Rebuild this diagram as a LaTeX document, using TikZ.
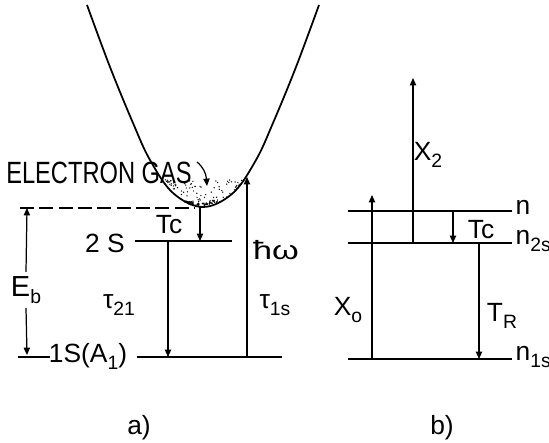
\documentclass[tikz,border=0pt]{standalone}
\usepackage{fontspec}
\usetikzlibrary{arrows.meta}
\newfontfamily\lf{Liberation Sans}
\newfontfamily\lfc[FakeStretch=0.77]{Liberation Sans}
\newfontfamily\lfw[FakeStretch=1.3]{Liberation Sans}
\newcommand\sbs[1]{\raisebox{-0.5ex}{\fontsize{11}{11}\selectfont #1}}
\begin{document}
\begin{tikzpicture}[x=0.02cm,y=-0.02cm,line width=0.7pt,
  arr/.style={-{Triangle[length=4.2pt,width=3.6pt]}},
  curve/.style={line width=1pt},
  lab/.style={font=\lf\fontsize{15}{17}\selectfont,inner sep=0pt},
  biglab/.style={font=\lfc\fontsize{17.5}{20}\selectfont,inner sep=0pt}]
\useasboundingbox (0,0) rectangle (549,443);
% ---------------- panel a ----------------
\draw[curve] plot[smooth,tension=0.6] coordinates
  {(87,5) (110,67) (133,123) (150,160) (173,193) (203,207)
   (233,193) (256,160) (273,123) (296,67) (319,5)};
% electron gas dots
\pgfmathsetseed{7}
\foreach \i in {1,...,90}{
  \pgfmathsetmacro\d{(rnd*2-1)*40}
  \pgfmathsetmacro\yb{207-0.016*\d*\d-2}
  \pgfmathsetmacro\h{max(\yb-180,0)}
  \pgfmathsetmacro\yy{\yb-\h*pow(rnd,1.2)}
  \fill ({205+\d},\yy) circle (0.4pt);
}
\foreach \i in {1,...,45}{
  \pgfmathsetmacro\d{(rnd*2-1)*15}
  \pgfmathsetmacro\yy{207-0.016*\d*\d-1-2.5*rnd}
  \fill ({200+\d},\yy) circle (0.5pt);
}
% coordinates
\coordinate (dashL) at (20,208);
\coordinate (dashR) at (194,208);
\coordinate (vtx) at (200,207);
\coordinate (EbT) at (27,208);
\coordinate (EbB) at (27,355);
\coordinate (s1a) at (18,357);
\coordinate (s1b) at (50,357);
\coordinate (L1a) at (137,357);
\coordinate (L1b) at (282,357);
\coordinate (L2a) at (135,241);
\coordinate (L2b) at (232,241);
\coordinate (tcA) at (200,241);
\coordinate (t21a) at (168,241);
\coordinate (t21b) at (168,357);
\coordinate (hwB) at (247,357);
\coordinate (hwT) at (247,177);
\coordinate (gasA) at (197,162);
\coordinate (gasB) at (207,186);
% lines
\draw[dashed,dash pattern=on 8pt off 3pt] (dashL) -- (dashR);
\node[lab,font=\lf\fontsize{16.5}{18}\selectfont,inner sep=2pt] (Eb) at (26,290) {E\sbs{b}};
\draw[arr] (Eb.north) -- (EbT);
\draw[arr] (Eb.south) -- (EbB);
\draw (s1a) -- (s1b);
\draw (L1a) -- (L1b);
\draw (L2a) -- (L2b);
\draw[arr] (vtx) -- (tcA);
\draw[arr] (t21a) -- (t21b);
\draw[arr] (hwB) -- (hwT);
\draw[arr] (gasA) .. controls (203,167) and (206,173) .. (gasB);
% labels
\node[biglab] (gas) at (99,173) {ELECTRON GAS};
\node[lab] (l1S) at (88,356) {1S(A\sbs{1})};
\node[lab] (l2S) at (105,243) {2 S};
\node[lab] (tcAl) at (169,225) {Tc};
\node[lab] (t21) at (119,305) {τ\sbs{21}};
\node[lab,font=\lfw\fontsize{15}{17}\selectfont] (hw) at (276,250) {ħω};
\node[lab] (t1s) at (275,305) {τ\sbs{1s}};
\node[lab] (capa) at (139,428) {a)};
% ---------------- panel b ----------------
\coordinate (na) at (348,211);
\coordinate (nb) at (512,211);
\coordinate (n2a) at (348,243);
\coordinate (n2b) at (512,243);
\coordinate (n1a) at (348,359);
\coordinate (n1b) at (512,359);
\coordinate (x0B) at (372,359);
\coordinate (x0T) at (372,195);
\coordinate (x2B) at (413,243);
\coordinate (x2T) at (413,78);
\coordinate (tcbT) at (453,211);
\coordinate (tcbB) at (453,243);
\coordinate (trT) at (479,243);
\coordinate (trB) at (479,359);
\draw (na) -- (nb);
\draw (n2a) -- (n2b);
\draw (n1a) -- (n1b);
\draw[arr] (x0B) -- (x0T);
\draw[arr] (x2B) -- (x2T);
\draw[arr] (tcbT) -- (tcbB);
\draw[arr] (trT) -- (trB);
\node[lab,anchor=west] (ln) at (515,207) {n};
\node[lab,anchor=west] (ln2) at (515,241) {n\sbs{2s}};
\node[lab,anchor=west] (ln1) at (515,357) {n\sbs{1s}};
\node[lab] (X0) at (348,310) {X\sbs{o}};
\node[lab] (X2) at (428,155) {X\sbs{2}};
\node[lab] (tcb) at (481,230) {Tc};
\node[lab] (TR) at (502,316) {T\sbs{R}};
\node[lab] (capb) at (442,428) {b)};
\end{tikzpicture}
\end{document}
